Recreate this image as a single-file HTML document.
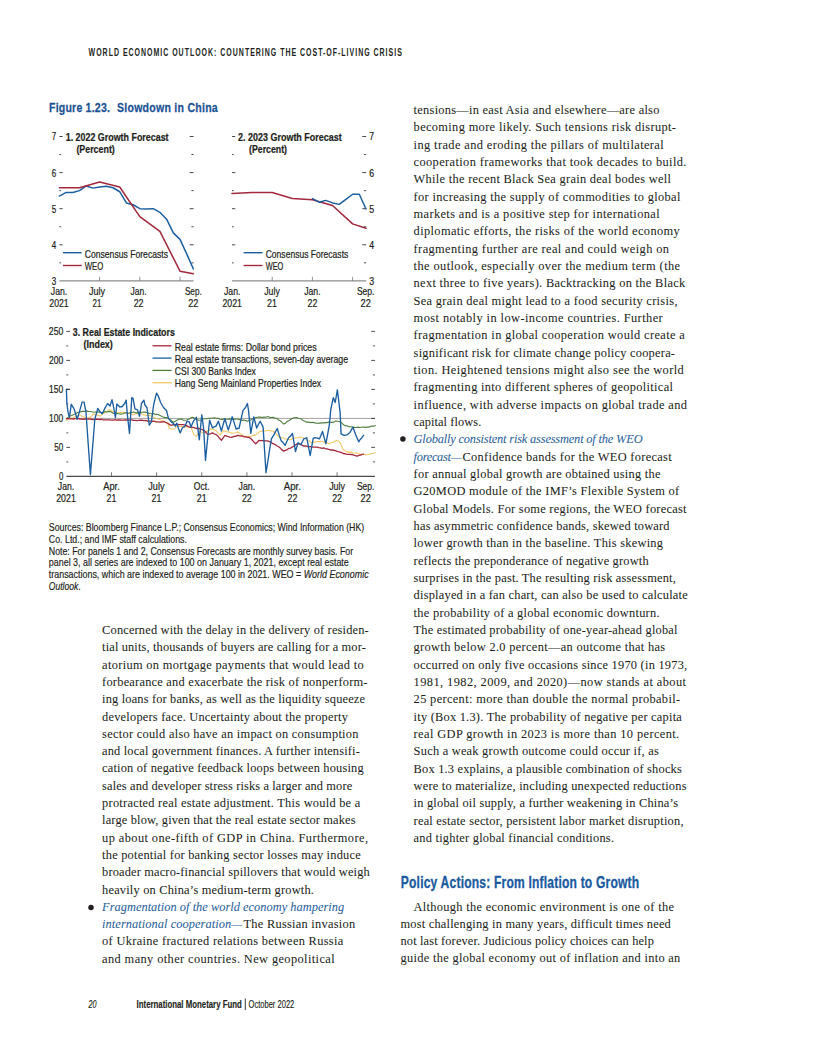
<!DOCTYPE html>
<html><head><meta charset="utf-8"><title>World Economic Outlook - Figure 1.23</title>
<style>
html,body{margin:0;padding:0;background:#fff;}
body{width:816px;height:1056px;overflow:hidden;font-family:"Liberation Sans",sans-serif;}
svg{display:block;}
</style></head>
<body>
<svg width="816" height="1056" viewBox="0 0 816 1056">
<rect width="816" height="1056" fill="#fff"/>
<text transform="translate(88.60,55.90) scale(0.66,1)" x="0" y="0" font-family='"Liberation Sans", sans-serif' font-size="10.6" font-weight="bold" font-style="normal" fill="#231f20" textLength="474.55" lengthAdjust="spacing">WORLD ECONOMIC OUTLOOK: COUNTERING THE COST-OF-LIVING CRISIS</text>
<text transform="translate(49.00,111.70) scale(0.8,1)" x="0" y="0" font-family='"Liberation Sans", sans-serif' font-size="13.2" font-weight="bold" font-style="normal" fill="#1b5294" textLength="76.12" lengthAdjust="spacing" stroke="#1b5294" stroke-width="0.25">Figure 1.23.</text>
<text transform="translate(117.00,111.70) scale(0.8,1)" x="0" y="0" font-family='"Liberation Sans", sans-serif' font-size="13.2" font-weight="bold" font-style="normal" fill="#1b5294" textLength="125.88" lengthAdjust="spacing" stroke="#1b5294" stroke-width="0.25">Slowdown in China</text>
<line x1="59.40" y1="262.85" x2="61.10" y2="262.85" stroke="#1a1a1a" stroke-width="0.8"/>
<line x1="191.40" y1="262.85" x2="193.60" y2="262.85" stroke="#1a1a1a" stroke-width="0.8"/>
<line x1="59.40" y1="244.80" x2="62.70" y2="244.80" stroke="#1a1a1a" stroke-width="0.8"/>
<line x1="189.70" y1="244.80" x2="193.60" y2="244.80" stroke="#1a1a1a" stroke-width="0.8"/>
<line x1="59.40" y1="226.75" x2="61.10" y2="226.75" stroke="#1a1a1a" stroke-width="0.8"/>
<line x1="191.40" y1="226.75" x2="193.60" y2="226.75" stroke="#1a1a1a" stroke-width="0.8"/>
<line x1="59.40" y1="208.70" x2="62.70" y2="208.70" stroke="#1a1a1a" stroke-width="0.8"/>
<line x1="189.70" y1="208.70" x2="193.60" y2="208.70" stroke="#1a1a1a" stroke-width="0.8"/>
<line x1="59.40" y1="190.65" x2="61.10" y2="190.65" stroke="#1a1a1a" stroke-width="0.8"/>
<line x1="191.40" y1="190.65" x2="193.60" y2="190.65" stroke="#1a1a1a" stroke-width="0.8"/>
<line x1="59.40" y1="172.60" x2="62.70" y2="172.60" stroke="#1a1a1a" stroke-width="0.8"/>
<line x1="189.70" y1="172.60" x2="193.60" y2="172.60" stroke="#1a1a1a" stroke-width="0.8"/>
<line x1="59.40" y1="154.55" x2="61.10" y2="154.55" stroke="#1a1a1a" stroke-width="0.8"/>
<line x1="191.40" y1="154.55" x2="193.60" y2="154.55" stroke="#1a1a1a" stroke-width="0.8"/>
<line x1="59.40" y1="136.50" x2="62.70" y2="136.50" stroke="#1a1a1a" stroke-width="0.8"/>
<line x1="189.70" y1="136.50" x2="193.60" y2="136.50" stroke="#1a1a1a" stroke-width="0.8"/>
<line x1="59.40" y1="280.90" x2="193.60" y2="280.90" stroke="#8c8c8c" stroke-width="1.3"/>
<line x1="99.60" y1="280.90" x2="99.60" y2="276.80" stroke="#777" stroke-width="0.8"/>
<line x1="139.80" y1="280.90" x2="139.80" y2="276.80" stroke="#777" stroke-width="0.8"/>
<line x1="180.00" y1="280.90" x2="180.00" y2="276.80" stroke="#777" stroke-width="0.8"/>
<line x1="232.00" y1="262.85" x2="233.70" y2="262.85" stroke="#1a1a1a" stroke-width="0.8"/>
<line x1="364.00" y1="262.85" x2="366.20" y2="262.85" stroke="#1a1a1a" stroke-width="0.8"/>
<line x1="232.00" y1="244.80" x2="235.30" y2="244.80" stroke="#1a1a1a" stroke-width="0.8"/>
<line x1="362.30" y1="244.80" x2="366.20" y2="244.80" stroke="#1a1a1a" stroke-width="0.8"/>
<line x1="232.00" y1="226.75" x2="233.70" y2="226.75" stroke="#1a1a1a" stroke-width="0.8"/>
<line x1="364.00" y1="226.75" x2="366.20" y2="226.75" stroke="#1a1a1a" stroke-width="0.8"/>
<line x1="232.00" y1="208.70" x2="235.30" y2="208.70" stroke="#1a1a1a" stroke-width="0.8"/>
<line x1="362.30" y1="208.70" x2="366.20" y2="208.70" stroke="#1a1a1a" stroke-width="0.8"/>
<line x1="232.00" y1="190.65" x2="233.70" y2="190.65" stroke="#1a1a1a" stroke-width="0.8"/>
<line x1="364.00" y1="190.65" x2="366.20" y2="190.65" stroke="#1a1a1a" stroke-width="0.8"/>
<line x1="232.00" y1="172.60" x2="235.30" y2="172.60" stroke="#1a1a1a" stroke-width="0.8"/>
<line x1="362.30" y1="172.60" x2="366.20" y2="172.60" stroke="#1a1a1a" stroke-width="0.8"/>
<line x1="232.00" y1="154.55" x2="233.70" y2="154.55" stroke="#1a1a1a" stroke-width="0.8"/>
<line x1="364.00" y1="154.55" x2="366.20" y2="154.55" stroke="#1a1a1a" stroke-width="0.8"/>
<line x1="232.00" y1="136.50" x2="235.30" y2="136.50" stroke="#1a1a1a" stroke-width="0.8"/>
<line x1="362.30" y1="136.50" x2="366.20" y2="136.50" stroke="#1a1a1a" stroke-width="0.8"/>
<line x1="232.00" y1="280.90" x2="366.20" y2="280.90" stroke="#8c8c8c" stroke-width="1.3"/>
<line x1="272.20" y1="280.90" x2="272.20" y2="276.80" stroke="#777" stroke-width="0.8"/>
<line x1="312.40" y1="280.90" x2="312.40" y2="276.80" stroke="#777" stroke-width="0.8"/>
<line x1="352.60" y1="280.90" x2="352.60" y2="276.80" stroke="#777" stroke-width="0.8"/>
<text x="56.20" y="284.80" font-family='"Liberation Sans", sans-serif' font-size="10.6" font-weight="normal" font-style="normal" fill="#231f20" text-anchor="end" textLength="4.50" lengthAdjust="spacingAndGlyphs" stroke="#231f20" stroke-width="0.22">3</text>
<text x="369.20" y="284.80" font-family='"Liberation Sans", sans-serif' font-size="10.6" font-weight="normal" font-style="normal" fill="#231f20" text-anchor="start" textLength="4.90" lengthAdjust="spacingAndGlyphs" stroke="#231f20" stroke-width="0.22">3</text>
<text x="56.20" y="248.70" font-family='"Liberation Sans", sans-serif' font-size="10.6" font-weight="normal" font-style="normal" fill="#231f20" text-anchor="end" textLength="4.50" lengthAdjust="spacingAndGlyphs" stroke="#231f20" stroke-width="0.22">4</text>
<text x="369.20" y="248.70" font-family='"Liberation Sans", sans-serif' font-size="10.6" font-weight="normal" font-style="normal" fill="#231f20" text-anchor="start" textLength="4.90" lengthAdjust="spacingAndGlyphs" stroke="#231f20" stroke-width="0.22">4</text>
<text x="56.20" y="212.60" font-family='"Liberation Sans", sans-serif' font-size="10.6" font-weight="normal" font-style="normal" fill="#231f20" text-anchor="end" textLength="4.50" lengthAdjust="spacingAndGlyphs" stroke="#231f20" stroke-width="0.22">5</text>
<text x="369.20" y="212.60" font-family='"Liberation Sans", sans-serif' font-size="10.6" font-weight="normal" font-style="normal" fill="#231f20" text-anchor="start" textLength="4.90" lengthAdjust="spacingAndGlyphs" stroke="#231f20" stroke-width="0.22">5</text>
<text x="56.20" y="176.50" font-family='"Liberation Sans", sans-serif' font-size="10.6" font-weight="normal" font-style="normal" fill="#231f20" text-anchor="end" textLength="4.50" lengthAdjust="spacingAndGlyphs" stroke="#231f20" stroke-width="0.22">6</text>
<text x="369.20" y="176.50" font-family='"Liberation Sans", sans-serif' font-size="10.6" font-weight="normal" font-style="normal" fill="#231f20" text-anchor="start" textLength="4.90" lengthAdjust="spacingAndGlyphs" stroke="#231f20" stroke-width="0.22">6</text>
<text x="56.20" y="140.40" font-family='"Liberation Sans", sans-serif' font-size="10.6" font-weight="normal" font-style="normal" fill="#231f20" text-anchor="end" textLength="4.50" lengthAdjust="spacingAndGlyphs" stroke="#231f20" stroke-width="0.22">7</text>
<text x="369.20" y="140.40" font-family='"Liberation Sans", sans-serif' font-size="10.6" font-weight="normal" font-style="normal" fill="#231f20" text-anchor="start" textLength="4.90" lengthAdjust="spacingAndGlyphs" stroke="#231f20" stroke-width="0.22">7</text>
<text x="65.70" y="141.00" font-family='"Liberation Sans", sans-serif' font-size="10.6" font-weight="bold" font-style="normal" fill="#231f20" text-anchor="start" textLength="102.90" lengthAdjust="spacingAndGlyphs" stroke="#231f20" stroke-width="0.22">1. 2022 Growth Forecast</text>
<text x="76.40" y="152.60" font-family='"Liberation Sans", sans-serif' font-size="10.6" font-weight="bold" font-style="normal" fill="#231f20" text-anchor="start" textLength="38.40" lengthAdjust="spacingAndGlyphs" stroke="#231f20" stroke-width="0.22">(Percent)</text>
<text x="238.10" y="141.00" font-family='"Liberation Sans", sans-serif' font-size="10.6" font-weight="bold" font-style="normal" fill="#231f20" text-anchor="start" textLength="103.60" lengthAdjust="spacingAndGlyphs" stroke="#231f20" stroke-width="0.22">2. 2023 Growth Forecast</text>
<text x="249.00" y="152.60" font-family='"Liberation Sans", sans-serif' font-size="10.6" font-weight="bold" font-style="normal" fill="#231f20" text-anchor="start" textLength="38.00" lengthAdjust="spacingAndGlyphs" stroke="#231f20" stroke-width="0.22">(Percent)</text>
<line x1="63.00" y1="252.70" x2="81.70" y2="252.70" stroke="#1c5fa0" stroke-width="1.4"/>
<line x1="63.00" y1="265.50" x2="81.70" y2="265.50" stroke="#a3283b" stroke-width="1.4"/>
<text x="84.70" y="257.60" font-family='"Liberation Sans", sans-serif' font-size="10.6" font-weight="normal" font-style="normal" fill="#231f20" text-anchor="start" textLength="83.30" lengthAdjust="spacingAndGlyphs" stroke="#231f20" stroke-width="0.22">Consensus Forecasts</text>
<text x="84.70" y="270.40" font-family='"Liberation Sans", sans-serif' font-size="10.6" font-weight="normal" font-style="normal" fill="#231f20" text-anchor="start" textLength="18.50" lengthAdjust="spacingAndGlyphs" stroke="#231f20" stroke-width="0.22">WEO</text>
<line x1="243.60" y1="252.70" x2="262.50" y2="252.70" stroke="#1c5fa0" stroke-width="1.4"/>
<line x1="243.60" y1="265.50" x2="262.50" y2="265.50" stroke="#a3283b" stroke-width="1.4"/>
<text x="265.70" y="257.60" font-family='"Liberation Sans", sans-serif' font-size="10.6" font-weight="normal" font-style="normal" fill="#231f20" text-anchor="start" textLength="82.60" lengthAdjust="spacingAndGlyphs" stroke="#231f20" stroke-width="0.22">Consensus Forecasts</text>
<text x="265.70" y="270.40" font-family='"Liberation Sans", sans-serif' font-size="10.6" font-weight="normal" font-style="normal" fill="#231f20" text-anchor="start" textLength="17.60" lengthAdjust="spacingAndGlyphs" stroke="#231f20" stroke-width="0.22">WEO</text>
<text x="59.00" y="295.00" font-family='"Liberation Sans", sans-serif' font-size="10.6" font-weight="normal" font-style="normal" fill="#231f20" text-anchor="middle" textLength="16.40" lengthAdjust="spacingAndGlyphs" stroke="#231f20" stroke-width="0.22">Jan.</text>
<text x="59.00" y="307.00" font-family='"Liberation Sans", sans-serif' font-size="10.6" font-weight="normal" font-style="normal" fill="#231f20" text-anchor="middle" textLength="19.40" lengthAdjust="spacingAndGlyphs" stroke="#231f20" stroke-width="0.22">2021</text>
<text x="97.00" y="295.00" font-family='"Liberation Sans", sans-serif' font-size="10.6" font-weight="normal" font-style="normal" fill="#231f20" text-anchor="middle" textLength="16.00" lengthAdjust="spacingAndGlyphs" stroke="#231f20" stroke-width="0.22">July</text>
<text x="97.00" y="307.00" font-family='"Liberation Sans", sans-serif' font-size="10.6" font-weight="normal" font-style="normal" fill="#231f20" text-anchor="middle" textLength="8.80" lengthAdjust="spacingAndGlyphs" stroke="#231f20" stroke-width="0.22">21</text>
<text x="138.60" y="295.00" font-family='"Liberation Sans", sans-serif' font-size="10.6" font-weight="normal" font-style="normal" fill="#231f20" text-anchor="middle" textLength="16.00" lengthAdjust="spacingAndGlyphs" stroke="#231f20" stroke-width="0.22">Jan.</text>
<text x="138.60" y="307.00" font-family='"Liberation Sans", sans-serif' font-size="10.6" font-weight="normal" font-style="normal" fill="#231f20" text-anchor="middle" textLength="9.80" lengthAdjust="spacingAndGlyphs" stroke="#231f20" stroke-width="0.22">22</text>
<text x="193.30" y="295.00" font-family='"Liberation Sans", sans-serif' font-size="10.6" font-weight="normal" font-style="normal" fill="#231f20" text-anchor="middle" textLength="16.80" lengthAdjust="spacingAndGlyphs" stroke="#231f20" stroke-width="0.22">Sep.</text>
<text x="193.30" y="307.00" font-family='"Liberation Sans", sans-serif' font-size="10.6" font-weight="normal" font-style="normal" fill="#231f20" text-anchor="middle" textLength="10.20" lengthAdjust="spacingAndGlyphs" stroke="#231f20" stroke-width="0.22">22</text>
<text x="232.20" y="295.00" font-family='"Liberation Sans", sans-serif' font-size="10.6" font-weight="normal" font-style="normal" fill="#231f20" text-anchor="middle" textLength="16.40" lengthAdjust="spacingAndGlyphs" stroke="#231f20" stroke-width="0.22">Jan.</text>
<text x="232.20" y="307.00" font-family='"Liberation Sans", sans-serif' font-size="10.6" font-weight="normal" font-style="normal" fill="#231f20" text-anchor="middle" textLength="19.60" lengthAdjust="spacingAndGlyphs" stroke="#231f20" stroke-width="0.22">2021</text>
<text x="272.00" y="295.00" font-family='"Liberation Sans", sans-serif' font-size="10.6" font-weight="normal" font-style="normal" fill="#231f20" text-anchor="middle" textLength="15.50" lengthAdjust="spacingAndGlyphs" stroke="#231f20" stroke-width="0.22">July</text>
<text x="272.00" y="307.00" font-family='"Liberation Sans", sans-serif' font-size="10.6" font-weight="normal" font-style="normal" fill="#231f20" text-anchor="middle" textLength="9.80" lengthAdjust="spacingAndGlyphs" stroke="#231f20" stroke-width="0.22">21</text>
<text x="312.40" y="295.00" font-family='"Liberation Sans", sans-serif' font-size="10.6" font-weight="normal" font-style="normal" fill="#231f20" text-anchor="middle" textLength="16.40" lengthAdjust="spacingAndGlyphs" stroke="#231f20" stroke-width="0.22">Jan.</text>
<text x="312.40" y="307.00" font-family='"Liberation Sans", sans-serif' font-size="10.6" font-weight="normal" font-style="normal" fill="#231f20" text-anchor="middle" textLength="9.80" lengthAdjust="spacingAndGlyphs" stroke="#231f20" stroke-width="0.22">22</text>
<text x="365.70" y="295.00" font-family='"Liberation Sans", sans-serif' font-size="10.6" font-weight="normal" font-style="normal" fill="#231f20" text-anchor="middle" textLength="17.60" lengthAdjust="spacingAndGlyphs" stroke="#231f20" stroke-width="0.22">Sep.</text>
<text x="365.70" y="307.00" font-family='"Liberation Sans", sans-serif' font-size="10.6" font-weight="normal" font-style="normal" fill="#231f20" text-anchor="middle" textLength="10.30" lengthAdjust="spacingAndGlyphs" stroke="#231f20" stroke-width="0.22">22</text>
<polyline points="59.40,196.06 66.10,192.45 72.80,192.45 79.50,190.65 86.20,185.96 92.90,188.12 99.60,187.04 106.30,186.32 113.00,187.76 119.70,191.73 126.40,202.92 133.10,204.73 139.80,208.70 146.50,209.06 153.20,208.70 159.90,212.31 166.60,219.17 173.30,232.89 180.00,239.38 186.70,253.82 193.40,268.99" fill="none" stroke="#1c5fa0" stroke-width="1.5" stroke-linejoin="round" stroke-linecap="round"/>
<polyline points="59.40,187.76 79.50,187.76 99.60,181.99 119.70,187.04 139.80,216.64 159.90,231.44 180.00,271.15 193.40,273.68" fill="none" stroke="#a3283b" stroke-width="1.5" stroke-linejoin="round" stroke-linecap="round"/>
<polyline points="232.00,193.54 252.10,192.45 272.20,192.45 292.30,198.59 312.40,199.67 332.50,205.45 352.60,223.86 366.00,228.19" fill="none" stroke="#a3283b" stroke-width="1.5" stroke-linejoin="round" stroke-linecap="round"/>
<polyline points="312.40,198.59 319.10,202.20 325.80,200.40 332.50,202.92 339.20,204.37 345.90,199.31 352.60,194.26 359.30,194.26 366.00,209.06" fill="none" stroke="#1c5fa0" stroke-width="1.5" stroke-linejoin="round" stroke-linecap="round"/>
<line x1="66.40" y1="418.40" x2="374.90" y2="418.40" stroke="#8a8a8a" stroke-width="0.8"/>
<line x1="66.40" y1="461.90" x2="68.20" y2="461.90" stroke="#1a1a1a" stroke-width="0.8"/>
<line x1="372.90" y1="461.90" x2="374.90" y2="461.90" stroke="#1a1a1a" stroke-width="0.8"/>
<line x1="66.40" y1="447.40" x2="70.00" y2="447.40" stroke="#1a1a1a" stroke-width="0.8"/>
<line x1="371.30" y1="447.40" x2="374.90" y2="447.40" stroke="#1a1a1a" stroke-width="0.8"/>
<line x1="66.40" y1="432.90" x2="68.20" y2="432.90" stroke="#1a1a1a" stroke-width="0.8"/>
<line x1="372.90" y1="432.90" x2="374.90" y2="432.90" stroke="#1a1a1a" stroke-width="0.8"/>
<line x1="66.40" y1="418.40" x2="70.00" y2="418.40" stroke="#1a1a1a" stroke-width="0.8"/>
<line x1="371.30" y1="418.40" x2="374.90" y2="418.40" stroke="#1a1a1a" stroke-width="0.8"/>
<line x1="66.40" y1="403.90" x2="68.20" y2="403.90" stroke="#1a1a1a" stroke-width="0.8"/>
<line x1="372.90" y1="403.90" x2="374.90" y2="403.90" stroke="#1a1a1a" stroke-width="0.8"/>
<line x1="66.40" y1="389.40" x2="70.00" y2="389.40" stroke="#1a1a1a" stroke-width="0.8"/>
<line x1="371.30" y1="389.40" x2="374.90" y2="389.40" stroke="#1a1a1a" stroke-width="0.8"/>
<line x1="66.40" y1="374.90" x2="68.20" y2="374.90" stroke="#1a1a1a" stroke-width="0.8"/>
<line x1="372.90" y1="374.90" x2="374.90" y2="374.90" stroke="#1a1a1a" stroke-width="0.8"/>
<line x1="66.40" y1="360.40" x2="70.00" y2="360.40" stroke="#1a1a1a" stroke-width="0.8"/>
<line x1="371.30" y1="360.40" x2="374.90" y2="360.40" stroke="#1a1a1a" stroke-width="0.8"/>
<line x1="66.40" y1="345.90" x2="68.20" y2="345.90" stroke="#1a1a1a" stroke-width="0.8"/>
<line x1="372.90" y1="345.90" x2="374.90" y2="345.90" stroke="#1a1a1a" stroke-width="0.8"/>
<line x1="66.40" y1="331.40" x2="70.00" y2="331.40" stroke="#1a1a1a" stroke-width="0.8"/>
<line x1="371.30" y1="331.40" x2="374.90" y2="331.40" stroke="#1a1a1a" stroke-width="0.8"/>
<text x="63.30" y="480.20" font-family='"Liberation Sans", sans-serif' font-size="10.6" font-weight="normal" font-style="normal" fill="#231f20" text-anchor="end" textLength="4.40" lengthAdjust="spacingAndGlyphs" stroke="#231f20" stroke-width="0.22">0</text>
<text x="63.30" y="451.20" font-family='"Liberation Sans", sans-serif' font-size="10.6" font-weight="normal" font-style="normal" fill="#231f20" text-anchor="end" textLength="9.00" lengthAdjust="spacingAndGlyphs" stroke="#231f20" stroke-width="0.22">50</text>
<text x="63.30" y="422.20" font-family='"Liberation Sans", sans-serif' font-size="10.6" font-weight="normal" font-style="normal" fill="#231f20" text-anchor="end" textLength="14.20" lengthAdjust="spacingAndGlyphs" stroke="#231f20" stroke-width="0.22">100</text>
<text x="63.30" y="393.20" font-family='"Liberation Sans", sans-serif' font-size="10.6" font-weight="normal" font-style="normal" fill="#231f20" text-anchor="end" textLength="14.20" lengthAdjust="spacingAndGlyphs" stroke="#231f20" stroke-width="0.22">150</text>
<text x="63.30" y="364.20" font-family='"Liberation Sans", sans-serif' font-size="10.6" font-weight="normal" font-style="normal" fill="#231f20" text-anchor="end" textLength="14.40" lengthAdjust="spacingAndGlyphs" stroke="#231f20" stroke-width="0.22">200</text>
<text x="63.30" y="335.20" font-family='"Liberation Sans", sans-serif' font-size="10.6" font-weight="normal" font-style="normal" fill="#231f20" text-anchor="end" textLength="14.50" lengthAdjust="spacingAndGlyphs" stroke="#231f20" stroke-width="0.22">250</text>
<text x="72.80" y="336.00" font-family='"Liberation Sans", sans-serif' font-size="10.6" font-weight="bold" font-style="normal" fill="#231f20" text-anchor="start" textLength="102.00" lengthAdjust="spacingAndGlyphs" stroke="#231f20" stroke-width="0.22">3. Real Estate Indicators</text>
<text x="83.50" y="348.20" font-family='"Liberation Sans", sans-serif' font-size="10.6" font-weight="bold" font-style="normal" fill="#231f20" text-anchor="start" textLength="29.30" lengthAdjust="spacingAndGlyphs" stroke="#231f20" stroke-width="0.22">(Index)</text>
<line x1="152.50" y1="345.80" x2="171.60" y2="345.80" stroke="#a3283b" stroke-width="1.3"/>
<text x="174.70" y="350.70" font-family='"Liberation Sans", sans-serif' font-size="10.6" font-weight="normal" font-style="normal" fill="#231f20" text-anchor="start" textLength="141.90" lengthAdjust="spacingAndGlyphs" stroke="#231f20" stroke-width="0.22">Real estate firms: Dollar bond prices</text>
<line x1="152.50" y1="358.10" x2="171.60" y2="358.10" stroke="#1c5fa0" stroke-width="1.3"/>
<text x="174.70" y="362.95" font-family='"Liberation Sans", sans-serif' font-size="10.6" font-weight="normal" font-style="normal" fill="#231f20" text-anchor="start" textLength="173.40" lengthAdjust="spacingAndGlyphs" stroke="#231f20" stroke-width="0.22">Real estate transactions, seven-day average</text>
<line x1="152.50" y1="370.40" x2="171.60" y2="370.40" stroke="#4d7f3d" stroke-width="1.3"/>
<text x="174.70" y="375.20" font-family='"Liberation Sans", sans-serif' font-size="10.6" font-weight="normal" font-style="normal" fill="#231f20" text-anchor="start" textLength="81.20" lengthAdjust="spacingAndGlyphs" stroke="#231f20" stroke-width="0.22">CSI 300 Banks Index</text>
<line x1="152.50" y1="382.70" x2="171.60" y2="382.70" stroke="#f2c766" stroke-width="1.3"/>
<text x="174.70" y="387.45" font-family='"Liberation Sans", sans-serif' font-size="10.6" font-weight="normal" font-style="normal" fill="#231f20" text-anchor="start" textLength="146.50" lengthAdjust="spacingAndGlyphs" stroke="#231f20" stroke-width="0.22">Hang Seng Mainland Properties Index</text>
<polyline points="66.40,420.20 68.20,419.05 70.00,418.00 71.67,417.73 73.33,417.76 75.00,417.00 76.67,416.30 78.33,415.67 80.00,415.00 81.67,416.09 83.33,416.68 85.00,418.00 86.80,417.78 88.60,417.66 90.40,417.30 93.40,413.80 95.50,414.93 97.60,415.06 99.70,416.30 101.56,414.82 103.42,413.33 105.28,412.77 107.14,411.37 109.00,409.90 111.00,410.28 113.00,412.05 115.00,412.40 116.95,412.86 118.90,412.55 120.85,412.52 122.80,412.40 124.43,412.46 126.07,412.72 127.70,413.63 129.33,413.56 130.97,414.09 132.60,414.80 134.45,414.17 136.30,413.58 138.15,413.64 140.00,413.30 143.00,414.80 144.70,414.87 146.40,415.39 148.10,415.19 149.80,415.30 151.77,416.41 153.73,417.23 155.70,418.20 157.67,419.03 159.63,419.49 161.60,420.20 163.57,420.94 165.53,422.63 167.50,423.10 169.40,428.50 171.35,429.25 173.30,429.00 175.30,427.89 177.30,426.10 179.00,426.56 180.70,426.42 182.40,426.58 184.10,427.10 185.82,426.89 187.55,426.67 189.28,427.37 191.00,427.10 193.90,434.90 196.40,436.40 198.10,433.60 199.80,431.00 201.75,432.30 203.70,432.90 205.42,431.81 207.15,431.41 208.88,430.32 210.60,429.00 212.57,429.17 214.53,430.04 216.50,431.00 218.25,433.36 220.00,434.90 221.95,432.67 223.90,430.50 225.85,431.71 227.80,431.85 229.75,432.25 231.70,433.40 233.67,433.06 235.63,432.75 237.60,432.00 239.57,433.24 241.53,434.52 243.50,436.40 245.47,436.23 247.43,436.86 249.40,436.40 251.37,436.32 253.33,435.35 255.30,435.40 257.25,433.45 259.20,432.00 261.15,431.23 263.10,430.81 265.05,431.17 267.00,430.50 268.97,430.34 270.93,430.89 272.90,431.00 274.87,432.91 276.83,434.62 278.80,436.90 280.77,437.77 282.73,437.80 284.70,438.80 286.33,439.28 287.97,439.08 289.60,439.80 291.30,439.22 293.00,438.51 294.70,438.07 296.40,437.80 298.15,437.82 299.90,436.90 301.87,437.84 303.83,437.97 305.80,438.80 307.77,440.48 309.73,441.11 311.70,442.70 313.67,442.13 315.63,442.12 317.60,441.30 319.57,441.61 321.53,441.23 323.50,441.80 325.43,442.92 327.37,442.78 329.30,443.70 331.27,442.61 333.25,442.27 335.23,440.98 337.20,440.30 340.10,442.70 343.10,449.60 345.05,450.65 347.00,452.10 348.95,451.90 350.90,452.14 352.85,452.86 354.80,453.00 356.77,453.12 358.75,453.85 360.73,454.00 362.70,454.50 364.63,454.45 366.57,454.96 368.50,454.50 370.23,453.98 371.95,453.57 373.67,453.37 375.40,452.50" fill="none" stroke="#f2c766" stroke-width="1.1" stroke-linejoin="round" stroke-linecap="round"/>
<polyline points="66.40,418.70 68.20,417.32 70.00,416.00 71.67,415.49 73.33,414.83 75.00,414.00 76.67,412.98 78.33,412.18 80.00,412.00 81.62,411.60 83.25,411.22 84.88,411.49 86.50,410.90 88.12,411.37 89.75,411.55 91.38,411.78 93.00,412.00 94.64,412.24 96.28,411.81 97.92,412.18 99.56,411.98 101.20,412.40 103.15,412.56 105.10,411.46 107.05,411.97 109.00,411.40 111.00,411.77 113.00,413.19 115.00,413.80 116.95,413.64 118.90,413.70 120.85,414.14 122.80,413.80 124.75,412.97 126.70,412.66 128.65,413.17 130.60,412.40 132.23,412.41 133.87,411.99 135.50,412.89 137.13,412.85 138.77,412.01 140.40,412.40 142.23,412.32 144.07,412.04 145.90,412.40 147.87,412.68 149.83,413.45 151.80,413.80 153.43,413.63 155.07,414.33 156.70,414.30 158.63,414.68 160.57,415.64 162.50,416.80 164.47,417.58 166.43,417.63 168.40,418.20 170.03,419.45 171.67,420.96 173.30,422.20 175.27,421.18 177.23,420.08 179.20,419.20 181.17,419.06 183.13,420.09 185.10,420.20 186.82,419.94 188.55,419.23 190.28,418.19 192.00,417.30 193.70,417.88 195.40,418.61 197.10,419.67 198.80,420.20 200.78,420.00 202.75,419.06 204.72,418.81 206.70,418.70 208.65,418.31 210.60,418.21 212.55,418.26 214.50,417.70 216.33,418.20 218.17,418.23 220.00,419.20 221.95,419.52 223.90,419.13 225.85,419.22 227.80,419.20 229.43,418.92 231.07,419.13 232.70,419.09 234.33,419.47 235.97,418.80 237.60,419.20 239.23,419.58 240.87,419.54 242.50,420.40 244.13,420.07 245.77,420.64 247.40,421.20 249.03,420.39 250.67,420.04 252.30,418.80 253.93,418.56 255.57,417.66 257.20,417.30 258.83,417.00 260.47,417.11 262.10,417.51 263.73,416.95 265.37,417.34 267.00,416.80 268.63,416.70 270.27,417.69 271.90,417.36 273.53,417.42 275.17,418.22 276.80,418.20 278.52,420.09 280.25,420.66 281.98,422.39 283.70,424.10 285.33,423.24 286.97,421.68 288.60,420.70 290.57,419.44 292.53,418.21 294.50,417.70 296.63,417.57 298.77,418.49 300.90,418.70 302.85,420.43 304.80,421.20 306.77,422.17 308.73,422.14 310.70,422.60 312.33,422.21 313.97,422.59 315.60,423.14 317.23,423.27 318.87,423.16 320.50,423.10 322.13,422.68 323.77,422.83 325.40,422.63 327.03,422.63 328.67,422.11 330.30,422.20 332.02,422.40 333.75,422.09 335.48,421.11 337.20,421.20 339.15,421.49 341.10,422.20 343.05,424.27 345.00,425.60 346.98,425.75 348.95,426.79 350.92,426.74 352.90,427.10 354.60,427.40 356.30,427.50 358.00,427.11 359.70,427.50 361.68,427.19 363.65,427.05 365.62,427.38 367.60,427.10 369.55,426.92 371.50,425.98 373.45,426.36 375.40,425.60" fill="none" stroke="#4d7f3d" stroke-width="1.1" stroke-linejoin="round" stroke-linecap="round"/>
<polyline points="66.40,418.70 68.10,418.54 69.80,418.92 71.50,418.96 73.20,419.13 74.90,418.64 76.60,418.71 78.30,418.68 80.00,419.00 81.67,418.82 83.33,419.27 85.00,418.83 86.67,419.19 88.33,418.98 90.00,419.09 91.67,419.24 93.33,419.60 95.00,419.46 96.67,419.03 98.33,419.28 100.00,419.50 101.67,419.26 103.33,419.88 105.00,419.87 106.67,419.91 108.33,419.97 110.00,419.95 111.67,420.15 113.33,420.07 115.00,419.68 116.67,420.20 118.33,419.95 120.00,420.00 121.69,420.22 123.38,420.08 125.08,419.99 126.77,419.95 128.46,420.02 130.15,419.94 131.85,419.80 133.54,420.38 135.23,420.38 136.92,420.54 138.62,420.32 140.31,420.23 142.00,420.20 143.95,420.65 145.90,420.41 147.85,421.09 149.80,421.20 151.43,421.32 153.07,421.27 154.70,421.46 156.33,421.88 157.97,421.84 159.60,422.20 161.23,422.00 162.87,421.95 164.50,421.70 166.47,422.75 168.43,423.67 170.40,425.10 172.16,424.99 173.92,424.69 175.68,424.59 177.44,424.46 179.20,424.60 181.17,424.66 183.13,424.59 185.10,425.10 187.07,425.89 189.03,426.80 191.00,427.10 192.95,427.36 194.90,427.98 196.85,428.50 198.80,428.50 200.77,428.97 202.73,429.88 204.70,431.00 207.60,434.40 209.23,434.14 210.87,433.67 212.50,432.90 214.50,434.01 216.50,434.90 218.25,436.58 220.00,438.80 221.40,440.30 223.15,437.78 224.90,435.40 226.60,436.19 228.30,436.71 230.00,437.14 231.70,437.40 233.67,436.50 235.63,436.35 237.60,435.40 239.29,435.59 240.97,436.14 242.66,435.97 244.34,436.92 246.03,436.91 247.71,437.29 249.40,437.40 251.50,439.27 253.60,441.69 255.70,443.70 257.45,442.06 259.20,440.30 260.83,440.54 262.47,440.52 264.10,440.98 265.73,440.84 267.37,440.97 269.00,441.30 270.95,442.13 272.90,443.65 274.85,444.29 276.80,445.70 278.52,446.83 280.25,448.06 281.98,449.86 283.70,451.10 285.40,450.39 287.10,449.63 288.80,448.48 290.50,448.10 292.38,446.95 294.25,445.77 296.12,444.47 298.00,443.70 299.95,444.05 301.90,445.20 303.87,446.10 305.83,445.90 307.80,446.70 309.75,446.67 311.70,446.77 313.65,447.15 315.60,447.20 317.23,447.10 318.87,447.64 320.50,447.79 322.13,448.40 323.77,447.97 325.40,448.60 327.03,448.80 328.67,449.26 330.30,449.98 331.93,449.95 333.57,450.25 335.20,450.60 337.18,451.46 339.15,451.89 341.12,452.40 343.10,453.50 345.05,453.75 347.00,454.33 348.95,454.44 350.90,454.50 352.62,454.68 354.35,455.40 356.07,455.90 357.80,456.00 359.73,455.14 361.67,454.74 363.60,454.00" fill="none" stroke="#a3283b" stroke-width="1.3" stroke-linejoin="round" stroke-linecap="round"/>
<polyline points="66.40,389.30 66.90,403.50 67.90,411.40 69.40,417.30 71.30,404.30 73.80,408.40 75.50,413.33 77.20,419.20 80.10,409.40 82.10,402.10 84.10,402.10 86.00,412.40 88.20,443.74 90.40,474.60 92.60,447.08 94.80,419.20 97.80,408.40 99.70,411.40 102.20,413.80 105.10,407.90 107.60,403.50 110.00,406.00 112.00,399.60 113.50,406.50 115.40,417.30 116.90,404.00 119.80,407.00 122.30,406.50 124.70,403.50 126.20,400.10 127.20,413.30 129.50,433.40 131.80,397.60 133.10,398.60 135.00,408.90 137.50,409.90 139.50,416.30 141.50,403.50 143.90,400.10 144.90,405.00 146.90,407.50 149.30,425.10 151.30,422.20 153.70,404.50 156.50,393.20 158.60,396.70 160.60,402.50 163.50,407.50 166.50,410.40 168.40,418.20 171.40,422.20 173.30,423.10 175.30,426.10 176.80,423.10 178.50,428.53 180.20,432.90 182.20,428.00 185.10,426.10 187.10,421.20 189.50,422.20 191.00,427.10 193.40,421.20 196.40,417.30 199.30,439.80 201.80,414.80 203.70,429.00 205.50,460.40 207.60,438.80 209.60,420.20 212.50,428.00 214.25,426.78 216.00,426.10 218.40,421.20 221.40,431.00 223.15,424.56 224.90,418.70 226.60,424.63 228.30,430.00 230.25,423.59 232.20,416.80 234.15,422.66 236.10,429.00 239.10,428.00 241.05,419.42 243.00,410.40 245.50,407.50 247.40,403.50 248.40,409.40 250.80,433.40 253.80,416.80 256.70,428.00 258.45,424.48 260.20,421.20 263.10,427.10 266.00,472.60 267.80,461.67 269.60,449.61 271.40,438.80 273.90,434.90 275.60,431.37 277.30,428.50 279.25,435.13 281.20,440.80 283.20,442.83 285.20,445.20 286.90,441.21 288.60,437.80 290.55,435.97 292.50,433.40 295.50,451.60 298.00,442.70 300.90,444.70 303.80,438.80 306.80,437.80 308.50,446.81 310.20,455.50 313.20,438.30 314.90,437.63 316.60,437.80 319.50,438.80 322.50,431.50 324.20,437.66 325.90,443.70 327.60,434.60 329.30,425.10 330.80,409.40 333.30,397.60 335.20,402.50 337.40,389.80 340.10,412.40 341.10,433.90 344.00,435.40 347.00,434.90 349.90,432.50 352.90,427.10 355.80,434.90 358.70,441.80 360.33,439.26 361.97,437.72 363.60,435.40" fill="none" stroke="#1c5fa0" stroke-width="1.35" stroke-linejoin="round" stroke-linecap="round"/>
<line x1="66.40" y1="476.40" x2="374.90" y2="476.40" stroke="#4a4a4a" stroke-width="1.2"/>
<line x1="66.40" y1="389.30" x2="69.50" y2="389.30" stroke="#1a1a1a" stroke-width="0.8"/>
<line x1="111.52" y1="476.40" x2="111.52" y2="472.30" stroke="#555" stroke-width="0.8"/>
<line x1="156.64" y1="476.40" x2="156.64" y2="472.30" stroke="#555" stroke-width="0.8"/>
<line x1="201.76" y1="476.40" x2="201.76" y2="472.30" stroke="#555" stroke-width="0.8"/>
<line x1="246.88" y1="476.40" x2="246.88" y2="472.30" stroke="#555" stroke-width="0.8"/>
<line x1="292.00" y1="476.40" x2="292.00" y2="472.30" stroke="#555" stroke-width="0.8"/>
<line x1="337.12" y1="476.40" x2="337.12" y2="472.30" stroke="#555" stroke-width="0.8"/>
<text x="66.00" y="489.60" font-family='"Liberation Sans", sans-serif' font-size="10.6" font-weight="normal" font-style="normal" fill="#231f20" text-anchor="middle" textLength="16.40" lengthAdjust="spacingAndGlyphs" stroke="#231f20" stroke-width="0.22">Jan.</text>
<text x="66.00" y="502.10" font-family='"Liberation Sans", sans-serif' font-size="10.6" font-weight="normal" font-style="normal" fill="#231f20" text-anchor="middle" textLength="19.60" lengthAdjust="spacingAndGlyphs" stroke="#231f20" stroke-width="0.22">2021</text>
<text x="111.50" y="489.60" font-family='"Liberation Sans", sans-serif' font-size="10.6" font-weight="normal" font-style="normal" fill="#231f20" text-anchor="middle" textLength="16.50" lengthAdjust="spacingAndGlyphs" stroke="#231f20" stroke-width="0.22">Apr.</text>
<text x="111.50" y="502.10" font-family='"Liberation Sans", sans-serif' font-size="10.6" font-weight="normal" font-style="normal" fill="#231f20" text-anchor="middle" textLength="9.80" lengthAdjust="spacingAndGlyphs" stroke="#231f20" stroke-width="0.22">21</text>
<text x="156.40" y="489.60" font-family='"Liberation Sans", sans-serif' font-size="10.6" font-weight="normal" font-style="normal" fill="#231f20" text-anchor="middle" textLength="16.20" lengthAdjust="spacingAndGlyphs" stroke="#231f20" stroke-width="0.22">July</text>
<text x="156.40" y="502.10" font-family='"Liberation Sans", sans-serif' font-size="10.6" font-weight="normal" font-style="normal" fill="#231f20" text-anchor="middle" textLength="9.80" lengthAdjust="spacingAndGlyphs" stroke="#231f20" stroke-width="0.22">21</text>
<text x="201.70" y="489.60" font-family='"Liberation Sans", sans-serif' font-size="10.6" font-weight="normal" font-style="normal" fill="#231f20" text-anchor="middle" textLength="15.70" lengthAdjust="spacingAndGlyphs" stroke="#231f20" stroke-width="0.22">Oct.</text>
<text x="201.70" y="502.10" font-family='"Liberation Sans", sans-serif' font-size="10.6" font-weight="normal" font-style="normal" fill="#231f20" text-anchor="middle" textLength="9.80" lengthAdjust="spacingAndGlyphs" stroke="#231f20" stroke-width="0.22">21</text>
<text x="246.80" y="489.60" font-family='"Liberation Sans", sans-serif' font-size="10.6" font-weight="normal" font-style="normal" fill="#231f20" text-anchor="middle" textLength="16.60" lengthAdjust="spacingAndGlyphs" stroke="#231f20" stroke-width="0.22">Jan.</text>
<text x="246.80" y="502.10" font-family='"Liberation Sans", sans-serif' font-size="10.6" font-weight="normal" font-style="normal" fill="#231f20" text-anchor="middle" textLength="9.80" lengthAdjust="spacingAndGlyphs" stroke="#231f20" stroke-width="0.22">22</text>
<text x="292.40" y="489.60" font-family='"Liberation Sans", sans-serif' font-size="10.6" font-weight="normal" font-style="normal" fill="#231f20" text-anchor="middle" textLength="17.20" lengthAdjust="spacingAndGlyphs" stroke="#231f20" stroke-width="0.22">Apr.</text>
<text x="292.40" y="502.10" font-family='"Liberation Sans", sans-serif' font-size="10.6" font-weight="normal" font-style="normal" fill="#231f20" text-anchor="middle" textLength="9.80" lengthAdjust="spacingAndGlyphs" stroke="#231f20" stroke-width="0.22">22</text>
<text x="337.10" y="489.60" font-family='"Liberation Sans", sans-serif' font-size="10.6" font-weight="normal" font-style="normal" fill="#231f20" text-anchor="middle" textLength="15.90" lengthAdjust="spacingAndGlyphs" stroke="#231f20" stroke-width="0.22">July</text>
<text x="337.10" y="502.10" font-family='"Liberation Sans", sans-serif' font-size="10.6" font-weight="normal" font-style="normal" fill="#231f20" text-anchor="middle" textLength="9.80" lengthAdjust="spacingAndGlyphs" stroke="#231f20" stroke-width="0.22">22</text>
<text x="365.70" y="489.60" font-family='"Liberation Sans", sans-serif' font-size="10.6" font-weight="normal" font-style="normal" fill="#231f20" text-anchor="middle" textLength="17.60" lengthAdjust="spacingAndGlyphs" stroke="#231f20" stroke-width="0.22">Sep.</text>
<text x="365.70" y="502.10" font-family='"Liberation Sans", sans-serif' font-size="10.6" font-weight="normal" font-style="normal" fill="#231f20" text-anchor="middle" textLength="10.30" lengthAdjust="spacingAndGlyphs" stroke="#231f20" stroke-width="0.22">22</text>
<text x="48.80" y="530.90" font-family='"Liberation Sans", sans-serif' font-size="10.5" font-weight="normal" font-style="normal" fill="#231f20" text-anchor="start" textLength="315.40" lengthAdjust="spacingAndGlyphs" stroke="#231f20" stroke-width="0.18">Sources: Bloomberg Finance L.P.; Consensus Economics; Wind Information (HK)</text>
<text x="48.80" y="542.72" font-family='"Liberation Sans", sans-serif' font-size="10.5" font-weight="normal" font-style="normal" fill="#231f20" text-anchor="start" textLength="138.10" lengthAdjust="spacingAndGlyphs" stroke="#231f20" stroke-width="0.18">Co. Ltd.; and IMF staff calculations.</text>
<text x="48.80" y="554.54" font-family='"Liberation Sans", sans-serif' font-size="10.5" font-weight="normal" font-style="normal" fill="#231f20" text-anchor="start" textLength="304.40" lengthAdjust="spacingAndGlyphs" stroke="#231f20" stroke-width="0.18">Note: For panels 1 and 2, Consensus Forecasts are monthly survey basis. For</text>
<text x="48.80" y="566.36" font-family='"Liberation Sans", sans-serif' font-size="10.5" font-weight="normal" font-style="normal" fill="#231f20" text-anchor="start" textLength="300.00" lengthAdjust="spacingAndGlyphs" stroke="#231f20" stroke-width="0.18">panel 3, all series are indexed to 100 on January 1, 2021, except real estate</text>
<text x="48.80" y="578.18" font-family='"Liberation Sans", sans-serif' font-size="10.5" font-weight="normal" font-style="normal" fill="#231f20" text-anchor="start" textLength="319.80" lengthAdjust="spacingAndGlyphs" stroke="#231f20" stroke-width="0.18">transactions, which are indexed to average 100 in 2021. WEO = <tspan font-style="italic">World Economic</tspan></text>
<text x="48.80" y="590.00" font-family='"Liberation Sans", sans-serif' font-size="10.5" font-weight="normal" font-style="normal" fill="#231f20" text-anchor="start" textLength="31.80" lengthAdjust="spacingAndGlyphs" stroke="#231f20" stroke-width="0.18"><tspan font-style="italic">Outlook</tspan>.</text>
<text x="102.10" y="634.00" font-family='"Liberation Serif", serif' font-size="12.4" font-weight="normal" font-style="normal" fill="#231f20" text-anchor="start" textLength="266.60" lengthAdjust="spacing" stroke="#231f20" stroke-width="0.05">Concerned with the delay in the delivery of residen-</text>
<text x="102.10" y="651.30" font-family='"Liberation Serif", serif' font-size="12.4" font-weight="normal" font-style="normal" fill="#231f20" text-anchor="start" textLength="263.70" lengthAdjust="spacing" stroke="#231f20" stroke-width="0.05">tial units, thousands of buyers are calling for a mor-</text>
<text x="102.10" y="668.61" font-family='"Liberation Serif", serif' font-size="12.4" font-weight="normal" font-style="normal" fill="#231f20" text-anchor="start" textLength="261.50" lengthAdjust="spacing" stroke="#231f20" stroke-width="0.05">atorium on mortgage payments that would lead to</text>
<text x="102.10" y="685.91" font-family='"Liberation Serif", serif' font-size="12.4" font-weight="normal" font-style="normal" fill="#231f20" text-anchor="start" textLength="265.40" lengthAdjust="spacing" stroke="#231f20" stroke-width="0.05">forbearance and exacerbate the risk of nonperform-</text>
<text x="102.10" y="703.22" font-family='"Liberation Serif", serif' font-size="12.4" font-weight="normal" font-style="normal" fill="#231f20" text-anchor="start" textLength="262.90" lengthAdjust="spacing" stroke="#231f20" stroke-width="0.05">ing loans for banks, as well as the liquidity squeeze</text>
<text x="102.10" y="720.52" font-family='"Liberation Serif", serif' font-size="12.4" font-weight="normal" font-style="normal" fill="#231f20" text-anchor="start" textLength="245.80" lengthAdjust="spacing" stroke="#231f20" stroke-width="0.05">developers face. Uncertainty about the property</text>
<text x="102.10" y="737.83" font-family='"Liberation Serif", serif' font-size="12.4" font-weight="normal" font-style="normal" fill="#231f20" text-anchor="start" textLength="256.40" lengthAdjust="spacing" stroke="#231f20" stroke-width="0.05">sector could also have an impact on consumption</text>
<text x="102.10" y="755.13" font-family='"Liberation Serif", serif' font-size="12.4" font-weight="normal" font-style="normal" fill="#231f20" text-anchor="start" textLength="257.70" lengthAdjust="spacing" stroke="#231f20" stroke-width="0.05">and local government finances. A further intensifi-</text>
<text x="102.10" y="772.44" font-family='"Liberation Serif", serif' font-size="12.4" font-weight="normal" font-style="normal" fill="#231f20" text-anchor="start" textLength="261.50" lengthAdjust="spacing" stroke="#231f20" stroke-width="0.05">cation of negative feedback loops between housing</text>
<text x="102.10" y="789.75" font-family='"Liberation Serif", serif' font-size="12.4" font-weight="normal" font-style="normal" fill="#231f20" text-anchor="start" textLength="250.10" lengthAdjust="spacing" stroke="#231f20" stroke-width="0.05">sales and developer stress risks a larger and more</text>
<text x="102.10" y="807.05" font-family='"Liberation Serif", serif' font-size="12.4" font-weight="normal" font-style="normal" fill="#231f20" text-anchor="start" textLength="258.10" lengthAdjust="spacing" stroke="#231f20" stroke-width="0.05">protracted real estate adjustment. This would be a</text>
<text x="102.10" y="824.36" font-family='"Liberation Serif", serif' font-size="12.4" font-weight="normal" font-style="normal" fill="#231f20" text-anchor="start" textLength="253.50" lengthAdjust="spacing" stroke="#231f20" stroke-width="0.05">large blow, given that the real estate sector makes</text>
<text x="102.10" y="841.66" font-family='"Liberation Serif", serif' font-size="12.4" font-weight="normal" font-style="normal" fill="#231f20" text-anchor="start" textLength="265.90" lengthAdjust="spacing" stroke="#231f20" stroke-width="0.05">up about one-fifth of GDP in China. Furthermore,</text>
<text x="102.10" y="858.97" font-family='"Liberation Serif", serif' font-size="12.4" font-weight="normal" font-style="normal" fill="#231f20" text-anchor="start" textLength="258.60" lengthAdjust="spacing" stroke="#231f20" stroke-width="0.05">the potential for banking sector losses may induce</text>
<text x="102.10" y="876.27" font-family='"Liberation Serif", serif' font-size="12.4" font-weight="normal" font-style="normal" fill="#231f20" text-anchor="start" textLength="267.60" lengthAdjust="spacing" stroke="#231f20" stroke-width="0.05">broader macro-financial spillovers that would weigh</text>
<text x="102.10" y="893.57" font-family='"Liberation Serif", serif' font-size="12.4" font-weight="normal" font-style="normal" fill="#231f20" text-anchor="start" textLength="211.80" lengthAdjust="spacing" stroke="#231f20" stroke-width="0.05">heavily on China’s medium-term growth.</text>
<text x="102.10" y="910.88" font-family='"Liberation Serif", serif' font-size="12.4" font-weight="normal" font-style="normal" fill="#231f20" text-anchor="start" textLength="242.10" lengthAdjust="spacing" stroke="#231f20" stroke-width="0.05"><tspan font-style="italic" fill="#2a66a6">Fragmentation of the world economy hampering</tspan></text>
<text x="102.10" y="928.19" font-family='"Liberation Serif", serif' font-size="12.4" font-weight="normal" font-style="normal" fill="#231f20" text-anchor="start" textLength="140.20" lengthAdjust="spacing" stroke="#231f20" stroke-width="0.05"><tspan font-style="italic" fill="#2a66a6">international cooperation—</tspan></text>
<text x="243.50" y="928.19" font-family='"Liberation Serif", serif' font-size="12.4" font-weight="normal" font-style="normal" fill="#231f20" text-anchor="start" textLength="111.70" lengthAdjust="spacing" stroke="#231f20" stroke-width="0.05">The Russian invasion</text>
<text x="102.10" y="945.49" font-family='"Liberation Serif", serif' font-size="12.4" font-weight="normal" font-style="normal" fill="#231f20" text-anchor="start" textLength="241.10" lengthAdjust="spacing" stroke="#231f20" stroke-width="0.05">of Ukraine fractured relations between Russia</text>
<text x="102.10" y="962.79" font-family='"Liberation Serif", serif' font-size="12.4" font-weight="normal" font-style="normal" fill="#231f20" text-anchor="start" textLength="232.50" lengthAdjust="spacing" stroke="#231f20" stroke-width="0.05">and many other countries. New geopolitical</text>
<circle cx="91.0" cy="907.4" r="2.75" fill="#231f20"/>
<text x="413.60" y="114.00" font-family='"Liberation Serif", serif' font-size="12.4" font-weight="normal" font-style="normal" fill="#231f20" text-anchor="start" textLength="245.80" lengthAdjust="spacing" stroke="#231f20" stroke-width="0.05">tensions—in east Asia and elsewhere—are also</text>
<text x="413.60" y="131.34" font-family='"Liberation Serif", serif' font-size="12.4" font-weight="normal" font-style="normal" fill="#231f20" text-anchor="start" textLength="262.40" lengthAdjust="spacing" stroke="#231f20" stroke-width="0.05">becoming more likely. Such tensions risk disrupt-</text>
<text x="413.60" y="148.67" font-family='"Liberation Serif", serif' font-size="12.4" font-weight="normal" font-style="normal" fill="#231f20" text-anchor="start" textLength="250.10" lengthAdjust="spacing" stroke="#231f20" stroke-width="0.05">ing trade and eroding the pillars of multilateral</text>
<text x="413.60" y="166.00" font-family='"Liberation Serif", serif' font-size="12.4" font-weight="normal" font-style="normal" fill="#231f20" text-anchor="start" textLength="272.80" lengthAdjust="spacing" stroke="#231f20" stroke-width="0.05">cooperation frameworks that took decades to build.</text>
<text x="413.60" y="183.34" font-family='"Liberation Serif", serif' font-size="12.4" font-weight="normal" font-style="normal" fill="#231f20" text-anchor="start" textLength="257.40" lengthAdjust="spacing" stroke="#231f20" stroke-width="0.05">While the recent Black Sea grain deal bodes well</text>
<text x="413.60" y="200.68" font-family='"Liberation Serif", serif' font-size="12.4" font-weight="normal" font-style="normal" fill="#231f20" text-anchor="start" textLength="266.80" lengthAdjust="spacing" stroke="#231f20" stroke-width="0.05">for increasing the supply of commodities to global</text>
<text x="413.60" y="218.01" font-family='"Liberation Serif", serif' font-size="12.4" font-weight="normal" font-style="normal" fill="#231f20" text-anchor="start" textLength="246.00" lengthAdjust="spacing" stroke="#231f20" stroke-width="0.05">markets and is a positive step for international</text>
<text x="413.60" y="235.34" font-family='"Liberation Serif", serif' font-size="12.4" font-weight="normal" font-style="normal" fill="#231f20" text-anchor="start" textLength="266.10" lengthAdjust="spacing" stroke="#231f20" stroke-width="0.05">diplomatic efforts, the risks of the world economy</text>
<text x="413.60" y="252.68" font-family='"Liberation Serif", serif' font-size="12.4" font-weight="normal" font-style="normal" fill="#231f20" text-anchor="start" textLength="255.40" lengthAdjust="spacing" stroke="#231f20" stroke-width="0.05">fragmenting further are real and could weigh on</text>
<text x="413.60" y="270.01" font-family='"Liberation Serif", serif' font-size="12.4" font-weight="normal" font-style="normal" fill="#231f20" text-anchor="start" textLength="266.50" lengthAdjust="spacing" stroke="#231f20" stroke-width="0.05">the outlook, especially over the medium term (the</text>
<text x="413.60" y="287.35" font-family='"Liberation Serif", serif' font-size="12.4" font-weight="normal" font-style="normal" fill="#231f20" text-anchor="start" textLength="271.60" lengthAdjust="spacing" stroke="#231f20" stroke-width="0.05">next three to five years). Backtracking on the Black</text>
<text x="413.60" y="304.68" font-family='"Liberation Serif", serif' font-size="12.4" font-weight="normal" font-style="normal" fill="#231f20" text-anchor="start" textLength="263.90" lengthAdjust="spacing" stroke="#231f20" stroke-width="0.05">Sea grain deal might lead to a food security crisis,</text>
<text x="413.60" y="322.02" font-family='"Liberation Serif", serif' font-size="12.4" font-weight="normal" font-style="normal" fill="#231f20" text-anchor="start" textLength="249.10" lengthAdjust="spacing" stroke="#231f20" stroke-width="0.05">most notably in low-income countries. Further</text>
<text x="413.60" y="339.36" font-family='"Liberation Serif", serif' font-size="12.4" font-weight="normal" font-style="normal" fill="#231f20" text-anchor="start" textLength="271.20" lengthAdjust="spacing" stroke="#231f20" stroke-width="0.05">fragmentation in global cooperation would create a</text>
<text x="413.60" y="356.69" font-family='"Liberation Serif", serif' font-size="12.4" font-weight="normal" font-style="normal" fill="#231f20" text-anchor="start" textLength="261.40" lengthAdjust="spacing" stroke="#231f20" stroke-width="0.05">significant risk for climate change policy coopera-</text>
<text x="413.60" y="374.02" font-family='"Liberation Serif", serif' font-size="12.4" font-weight="normal" font-style="normal" fill="#231f20" text-anchor="start" textLength="270.20" lengthAdjust="spacing" stroke="#231f20" stroke-width="0.05">tion. Heightened tensions might also see the world</text>
<text x="413.60" y="391.36" font-family='"Liberation Serif", serif' font-size="12.4" font-weight="normal" font-style="normal" fill="#231f20" text-anchor="start" textLength="259.30" lengthAdjust="spacing" stroke="#231f20" stroke-width="0.05">fragmenting into different spheres of geopolitical</text>
<text x="413.60" y="408.69" font-family='"Liberation Serif", serif' font-size="12.4" font-weight="normal" font-style="normal" fill="#231f20" text-anchor="start" textLength="273.30" lengthAdjust="spacing" stroke="#231f20" stroke-width="0.05">influence, with adverse impacts on global trade and</text>
<text x="413.60" y="426.03" font-family='"Liberation Serif", serif' font-size="12.4" font-weight="normal" font-style="normal" fill="#231f20" text-anchor="start" textLength="67.70" lengthAdjust="spacing" stroke="#231f20" stroke-width="0.05">capital flows.</text>
<text x="413.60" y="443.37" font-family='"Liberation Serif", serif' font-size="12.4" font-weight="normal" font-style="normal" fill="#231f20" text-anchor="start" textLength="229.00" lengthAdjust="spacing" stroke="#231f20" stroke-width="0.05"><tspan font-style="italic" fill="#2a66a6">Globally consistent risk assessment of the WEO</tspan></text>
<text x="413.60" y="460.70" font-family='"Liberation Serif", serif' font-size="12.4" font-weight="normal" font-style="normal" fill="#231f20" text-anchor="start" textLength="48.10" lengthAdjust="spacing" stroke="#231f20" stroke-width="0.05"><tspan font-style="italic" fill="#2a66a6">forecast—</tspan></text>
<text x="462.50" y="460.70" font-family='"Liberation Serif", serif' font-size="12.4" font-weight="normal" font-style="normal" fill="#231f20" text-anchor="start" textLength="209.10" lengthAdjust="spacing" stroke="#231f20" stroke-width="0.05">Confidence bands for the WEO forecast</text>
<text x="413.60" y="478.03" font-family='"Liberation Serif", serif' font-size="12.4" font-weight="normal" font-style="normal" fill="#231f20" text-anchor="start" textLength="246.90" lengthAdjust="spacing" stroke="#231f20" stroke-width="0.05">for annual global growth are obtained using the</text>
<text x="413.60" y="495.37" font-family='"Liberation Serif", serif' font-size="12.4" font-weight="normal" font-style="normal" fill="#231f20" text-anchor="start" textLength="265.60" lengthAdjust="spacing" stroke="#231f20" stroke-width="0.05">G20MOD module of the IMF’s Flexible System of</text>
<text x="413.60" y="512.71" font-family='"Liberation Serif", serif' font-size="12.4" font-weight="normal" font-style="normal" fill="#231f20" text-anchor="start" textLength="272.90" lengthAdjust="spacing" stroke="#231f20" stroke-width="0.05">Global Models. For some regions, the WEO forecast</text>
<text x="413.60" y="530.04" font-family='"Liberation Serif", serif' font-size="12.4" font-weight="normal" font-style="normal" fill="#231f20" text-anchor="start" textLength="255.90" lengthAdjust="spacing" stroke="#231f20" stroke-width="0.05">has asymmetric confidence bands, skewed toward</text>
<text x="413.60" y="547.38" font-family='"Liberation Serif", serif' font-size="12.4" font-weight="normal" font-style="normal" fill="#231f20" text-anchor="start" textLength="249.40" lengthAdjust="spacing" stroke="#231f20" stroke-width="0.05">lower growth than in the baseline. This skewing</text>
<text x="413.60" y="564.71" font-family='"Liberation Serif", serif' font-size="12.4" font-weight="normal" font-style="normal" fill="#231f20" text-anchor="start" textLength="235.00" lengthAdjust="spacing" stroke="#231f20" stroke-width="0.05">reflects the preponderance of negative growth</text>
<text x="413.60" y="582.04" font-family='"Liberation Serif", serif' font-size="12.4" font-weight="normal" font-style="normal" fill="#231f20" text-anchor="start" textLength="262.20" lengthAdjust="spacing" stroke="#231f20" stroke-width="0.05">surprises in the past. The resulting risk assessment,</text>
<text x="413.60" y="599.38" font-family='"Liberation Serif", serif' font-size="12.4" font-weight="normal" font-style="normal" fill="#231f20" text-anchor="start" textLength="274.10" lengthAdjust="spacing" stroke="#231f20" stroke-width="0.05">displayed in a fan chart, can also be used to calculate</text>
<text x="413.60" y="616.72" font-family='"Liberation Serif", serif' font-size="12.4" font-weight="normal" font-style="normal" fill="#231f20" text-anchor="start" textLength="246.00" lengthAdjust="spacing" stroke="#231f20" stroke-width="0.05">the probability of a global economic downturn.</text>
<text x="413.60" y="634.05" font-family='"Liberation Serif", serif' font-size="12.4" font-weight="normal" font-style="normal" fill="#231f20" text-anchor="start" textLength="263.90" lengthAdjust="spacing" stroke="#231f20" stroke-width="0.05">The estimated probability of one-year-ahead global</text>
<text x="413.60" y="651.38" font-family='"Liberation Serif", serif' font-size="12.4" font-weight="normal" font-style="normal" fill="#231f20" text-anchor="start" textLength="251.60" lengthAdjust="spacing" stroke="#231f20" stroke-width="0.05">growth below 2.0 percent—an outcome that has</text>
<text x="413.60" y="668.72" font-family='"Liberation Serif", serif' font-size="12.4" font-weight="normal" font-style="normal" fill="#231f20" text-anchor="start" textLength="273.60" lengthAdjust="spacing" stroke="#231f20" stroke-width="0.05">occurred on only five occasions since 1970 (in 1973,</text>
<text x="413.60" y="686.06" font-family='"Liberation Serif", serif' font-size="12.4" font-weight="normal" font-style="normal" fill="#231f20" text-anchor="start" textLength="272.40" lengthAdjust="spacing" stroke="#231f20" stroke-width="0.05">1981, 1982, 2009, and 2020)—now stands at about</text>
<text x="413.60" y="703.39" font-family='"Liberation Serif", serif' font-size="12.4" font-weight="normal" font-style="normal" fill="#231f20" text-anchor="start" textLength="266.50" lengthAdjust="spacing" stroke="#231f20" stroke-width="0.05">25 percent: more than double the normal probabil-</text>
<text x="413.60" y="720.73" font-family='"Liberation Serif", serif' font-size="12.4" font-weight="normal" font-style="normal" fill="#231f20" text-anchor="start" textLength="268.20" lengthAdjust="spacing" stroke="#231f20" stroke-width="0.05">ity (Box 1.3). The probability of negative per capita</text>
<text x="413.60" y="738.06" font-family='"Liberation Serif", serif' font-size="12.4" font-weight="normal" font-style="normal" fill="#231f20" text-anchor="start" textLength="265.60" lengthAdjust="spacing" stroke="#231f20" stroke-width="0.05">real GDP growth in 2023 is more than 10 percent.</text>
<text x="413.60" y="755.39" font-family='"Liberation Serif", serif' font-size="12.4" font-weight="normal" font-style="normal" fill="#231f20" text-anchor="start" textLength="245.20" lengthAdjust="spacing" stroke="#231f20" stroke-width="0.05">Such a weak growth outcome could occur if, as</text>
<text x="413.60" y="772.73" font-family='"Liberation Serif", serif' font-size="12.4" font-weight="normal" font-style="normal" fill="#231f20" text-anchor="start" textLength="268.20" lengthAdjust="spacing" stroke="#231f20" stroke-width="0.05">Box 1.3 explains, a plausible combination of shocks</text>
<text x="413.60" y="790.07" font-family='"Liberation Serif", serif' font-size="12.4" font-weight="normal" font-style="normal" fill="#231f20" text-anchor="start" textLength="272.90" lengthAdjust="spacing" stroke="#231f20" stroke-width="0.05">were to materialize, including unexpected reductions</text>
<text x="413.60" y="807.40" font-family='"Liberation Serif", serif' font-size="12.4" font-weight="normal" font-style="normal" fill="#231f20" text-anchor="start" textLength="264.40" lengthAdjust="spacing" stroke="#231f20" stroke-width="0.05">in global oil supply, a further weakening in China’s</text>
<text x="413.60" y="824.74" font-family='"Liberation Serif", serif' font-size="12.4" font-weight="normal" font-style="normal" fill="#231f20" text-anchor="start" textLength="269.90" lengthAdjust="spacing" stroke="#231f20" stroke-width="0.05">real estate sector, persistent labor market disruption,</text>
<text x="413.60" y="842.07" font-family='"Liberation Serif", serif' font-size="12.4" font-weight="normal" font-style="normal" fill="#231f20" text-anchor="start" textLength="200.40" lengthAdjust="spacing" stroke="#231f20" stroke-width="0.05">and tighter global financial conditions.</text>
<circle cx="402.9" cy="439.0" r="2.75" fill="#231f20"/>
<text transform="translate(400.80,887.70) scale(0.76,1)" x="0" y="0" font-family='"Liberation Sans", sans-serif' font-size="15.9" font-weight="bold" font-style="normal" fill="#1a5aa0" textLength="313.68" lengthAdjust="spacing" stroke="#1a5aa0" stroke-width="0.3">Policy Actions: From Inflation to Growth</text>
<text x="413.50" y="910.80" font-family='"Liberation Serif", serif' font-size="12.4" font-weight="normal" font-style="normal" fill="#231f20" text-anchor="start" textLength="260.40" lengthAdjust="spacing" stroke="#231f20" stroke-width="0.05">Although the economic environment is one of the</text>
<text x="400.50" y="928.00" font-family='"Liberation Serif", serif' font-size="12.4" font-weight="normal" font-style="normal" fill="#231f20" text-anchor="start" textLength="270.30" lengthAdjust="spacing" stroke="#231f20" stroke-width="0.05">most challenging in many years, difficult times need</text>
<text x="400.50" y="945.20" font-family='"Liberation Serif", serif' font-size="12.4" font-weight="normal" font-style="normal" fill="#231f20" text-anchor="start" textLength="253.40" lengthAdjust="spacing" stroke="#231f20" stroke-width="0.05">not last forever. Judicious policy choices can help</text>
<text x="400.50" y="962.30" font-family='"Liberation Serif", serif' font-size="12.4" font-weight="normal" font-style="normal" fill="#231f20" text-anchor="start" textLength="279.80" lengthAdjust="spacing" stroke="#231f20" stroke-width="0.05">guide the global economy out of inflation and into an</text>
<text x="88.40" y="1007.80" font-family='"Liberation Sans", sans-serif' font-size="10.3" font-weight="normal" font-style="italic" fill="#231f20" text-anchor="start" textLength="8.00" lengthAdjust="spacingAndGlyphs" stroke="#231f20" stroke-width="0.15">20</text>
<text x="136.60" y="1007.80" font-family='"Liberation Sans", sans-serif' font-size="10.3" font-weight="bold" font-style="normal" fill="#231f20" text-anchor="start" textLength="105.20" lengthAdjust="spacingAndGlyphs" stroke="#231f20" stroke-width="0.15">International Monetary Fund</text>
<line x1="245.3" y1="998.5" x2="245.3" y2="1010" stroke="#231f20" stroke-width="0.9"/>
<text x="248.50" y="1007.80" font-family='"Liberation Sans", sans-serif' font-size="10.3" font-weight="normal" font-style="normal" fill="#231f20" text-anchor="start" textLength="45.80" lengthAdjust="spacingAndGlyphs" stroke="#231f20" stroke-width="0.15">October 2022</text>
</svg>
</body></html>
